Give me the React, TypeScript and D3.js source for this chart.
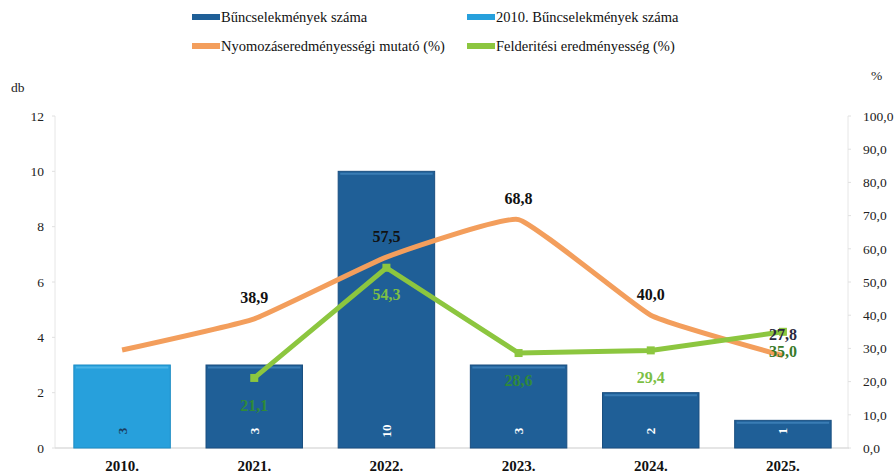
import React from "react";
import * as d3 from "d3";

const categories = ["2010.", "2021.", "2022.", "2023.", "2024.", "2025."];
const crimeCounts = [3, 3, 10, 3, 2, 1];
const investigationRate = [29.5, 38.9, 57.5, 68.8, 40.0, 27.8];
const detectionRate: (number | null)[] = [null, 21.1, 54.3, 28.6, 29.4, 35.0];
const investigationLabels = [null, "38,9", "57,5", "68,8", "40,0", "27,8"];
const detectionLabels = [null, "21,1", "54,3", "28,6", "29,4", "35,0"];
const leftTicks = [0, 2, 4, 6, 8, 10, 12];
const rightTicks = [0, 10, 20, 30, 40, 50, 60, 70, 80, 90, 100];
const legendItems = [
  { label: "Bűncselekmények száma", color: "#1f5f97" },
  { label: "2010. Bűncselekmények száma", color: "#27a0dc" },
  { label: "Nyomozáseredményességi mutató (%)", color: "#f39e5c" },
  { label: "Felderitési eredményesség (%)", color: "#8cc63f" },
];

const W = 894;
const H = 473;
const FONT = "'Liberation Serif', 'Times New Roman', serif";

export default function App() {
  const x = d3
    .scaleBand<string>()
    .domain(categories)
    .range([56, 849])
    .paddingInner(0.27)
    .paddingOuter(0.135);
  const yL = d3.scaleLinear().domain([0, 12]).range([448, 116]);
  const yR = d3.scaleLinear().domain([0, 100]).range([448, 116]);
  const cx = (c: string) => (x(c) ?? 0) + x.bandwidth() / 2;

  const orangeLine = d3
    .line<number>()
    .x((_, i) => cx(categories[i]))
    .y((d) => yR(d))
    .curve(d3.curveCardinal.tension(0.65));
  const greenPts = detectionRate
    .map((v, i) => ({ v, c: categories[i] }))
    .filter((d) => d.v !== null) as { v: number; c: string }[];
  const greenLine = d3
    .line<{ v: number; c: string }>()
    .x((d) => cx(d.c))
    .y((d) => yR(d.v));

  const fmt = (v: number) => v.toFixed(1).replace(".", ",");

  return (
    <svg width={W} height={H} style={{ position: "absolute", left: 0, top: 0, background: "#fff" }} fontFamily={FONT}>
      {/* legend */}
      {legendItems.map((it, i) => {
        const col = i % 2;
        const row = Math.floor(i / 2);
        const sx = col === 0 ? 192 : 467;
        const sy = row === 0 ? 17 : 46;
        return (
          <g key={it.label}>
            <line x1={sx} x2={sx + 28} y1={sy} y2={sy} stroke={it.color} strokeWidth={6} />
            <text x={sx + 29} y={sy} dy="0.35em" fontSize={14.5} fill="#111">
              {it.label}
            </text>
          </g>
        );
      })}

      {/* axes lines */}
      <line x1={55} x2={55} y1={116} y2={448} stroke="#e6e6e6" strokeWidth={1} />
      <line x1={848} x2={848} y1={116} y2={448} stroke="#e6e6e6" strokeWidth={1} />
      <line x1={55} x2={849} y1={448} y2={448} stroke="#dcdcdc" strokeWidth={1.5} />

      {/* left ticks */}
      {leftTicks.map((t) => (
        <g key={"l" + t}>
          <line x1={52} x2={55} y1={yL(t)} y2={yL(t)} stroke="#e0e0e0" />
          <text x={44} y={yL(t)} dy="0.35em" textAnchor="end" fontSize={13.5} fill="#222">
            {t}
          </text>
        </g>
      ))}
      <text x={11} y={92} fontSize={13.5} fill="#222">db</text>

      {/* right ticks */}
      {rightTicks.map((t) => (
        <g key={"r" + t}>
          <line x1={848} x2={851} y1={yR(t)} y2={yR(t)} stroke="#e0e0e0" />
          <text x={863} y={yR(t)} dy="0.35em" fontSize={13.5} fill="#222">
            {fmt(t)}
          </text>
        </g>
      ))}
      <text x={871} y={80} fontSize={13.5} fill="#222">%</text>

      {/* bars */}
      {crimeCounts.map((v, i) => {
        const c = categories[i];
        const bx = x(c) ?? 0;
        const top = yL(v);
        const fill = i === 0 ? "#27a0dc" : "#1f5f97";
        const edge = i === 0 ? "#4bb4e6" : "#3a7cb4";
        return (
          <g key={c}>
            <rect x={bx} y={top} width={x.bandwidth()} height={448 - top} fill={fill} stroke={i === 0 ? "#1d8cc4" : "#1a4f80"} strokeWidth={1} />
            <line x1={bx + 2} x2={bx + x.bandwidth() - 2} y1={top + 2.5} y2={top + 2.5} stroke={edge} strokeWidth={2} />
            <text
              transform={`translate(${cx(c)},${431}) rotate(-90)`}
              textAnchor="middle"
              dy="0.35em"
              fontSize={13}
              fontWeight="bold"
              fill={i === 0 ? "#1c3d5e" : "#ffffff"}
            >
              {v}
            </text>
          </g>
        );
      })}

      {/* orange line */}
      <path d={orangeLine(investigationRate) ?? ""} fill="none" stroke="#f39e5c" strokeWidth={5} strokeLinejoin="round" />

      {/* green line */}
      <path d={greenLine(greenPts) ?? ""} fill="none" stroke="#8cc63f" strokeWidth={5} strokeLinejoin="miter" />
      {greenPts.map((d) => (
        <rect key={"m" + d.c} x={cx(d.c) - 4} y={yR(d.v) - 4} width={8} height={8} fill="#8cc63f" />
      ))}

      {/* orange labels */}
      {investigationRate.map((v, i) =>
        investigationLabels[i] ? (
          <text key={"ol" + i} x={cx(categories[i])} y={yR(v) - 21} dy="0.35em" textAnchor="middle" fontSize={16} fontWeight="bold" fill={i === 5 ? "#2a2a40" : "#111"}>
            {investigationLabels[i]}
          </text>
        ) : null
      )}

      {/* green labels */}
      {detectionRate.map((v, i) =>
        v !== null && detectionLabels[i] ? (
          <text key={"gl" + i} x={cx(categories[i])} y={yR(v) + (i === 5 ? 20 : 27)} dy="0.35em" textAnchor="middle" fontSize={16} fontWeight="bold" fill={i === 1 || i === 3 ? "#2f8a3a" : i === 5 ? "#3a7a2a" : "#7cbf45"}>
            {detectionLabels[i]}
          </text>
        ) : null
      )}

      {/* categories */}
      {categories.map((c) => (
        <text key={"c" + c} x={cx(c)} y={466} dy="0.35em" textAnchor="middle" fontSize={15} fontWeight="bold" fill="#111">
          {c}
        </text>
      ))}
    </svg>
  );
}
